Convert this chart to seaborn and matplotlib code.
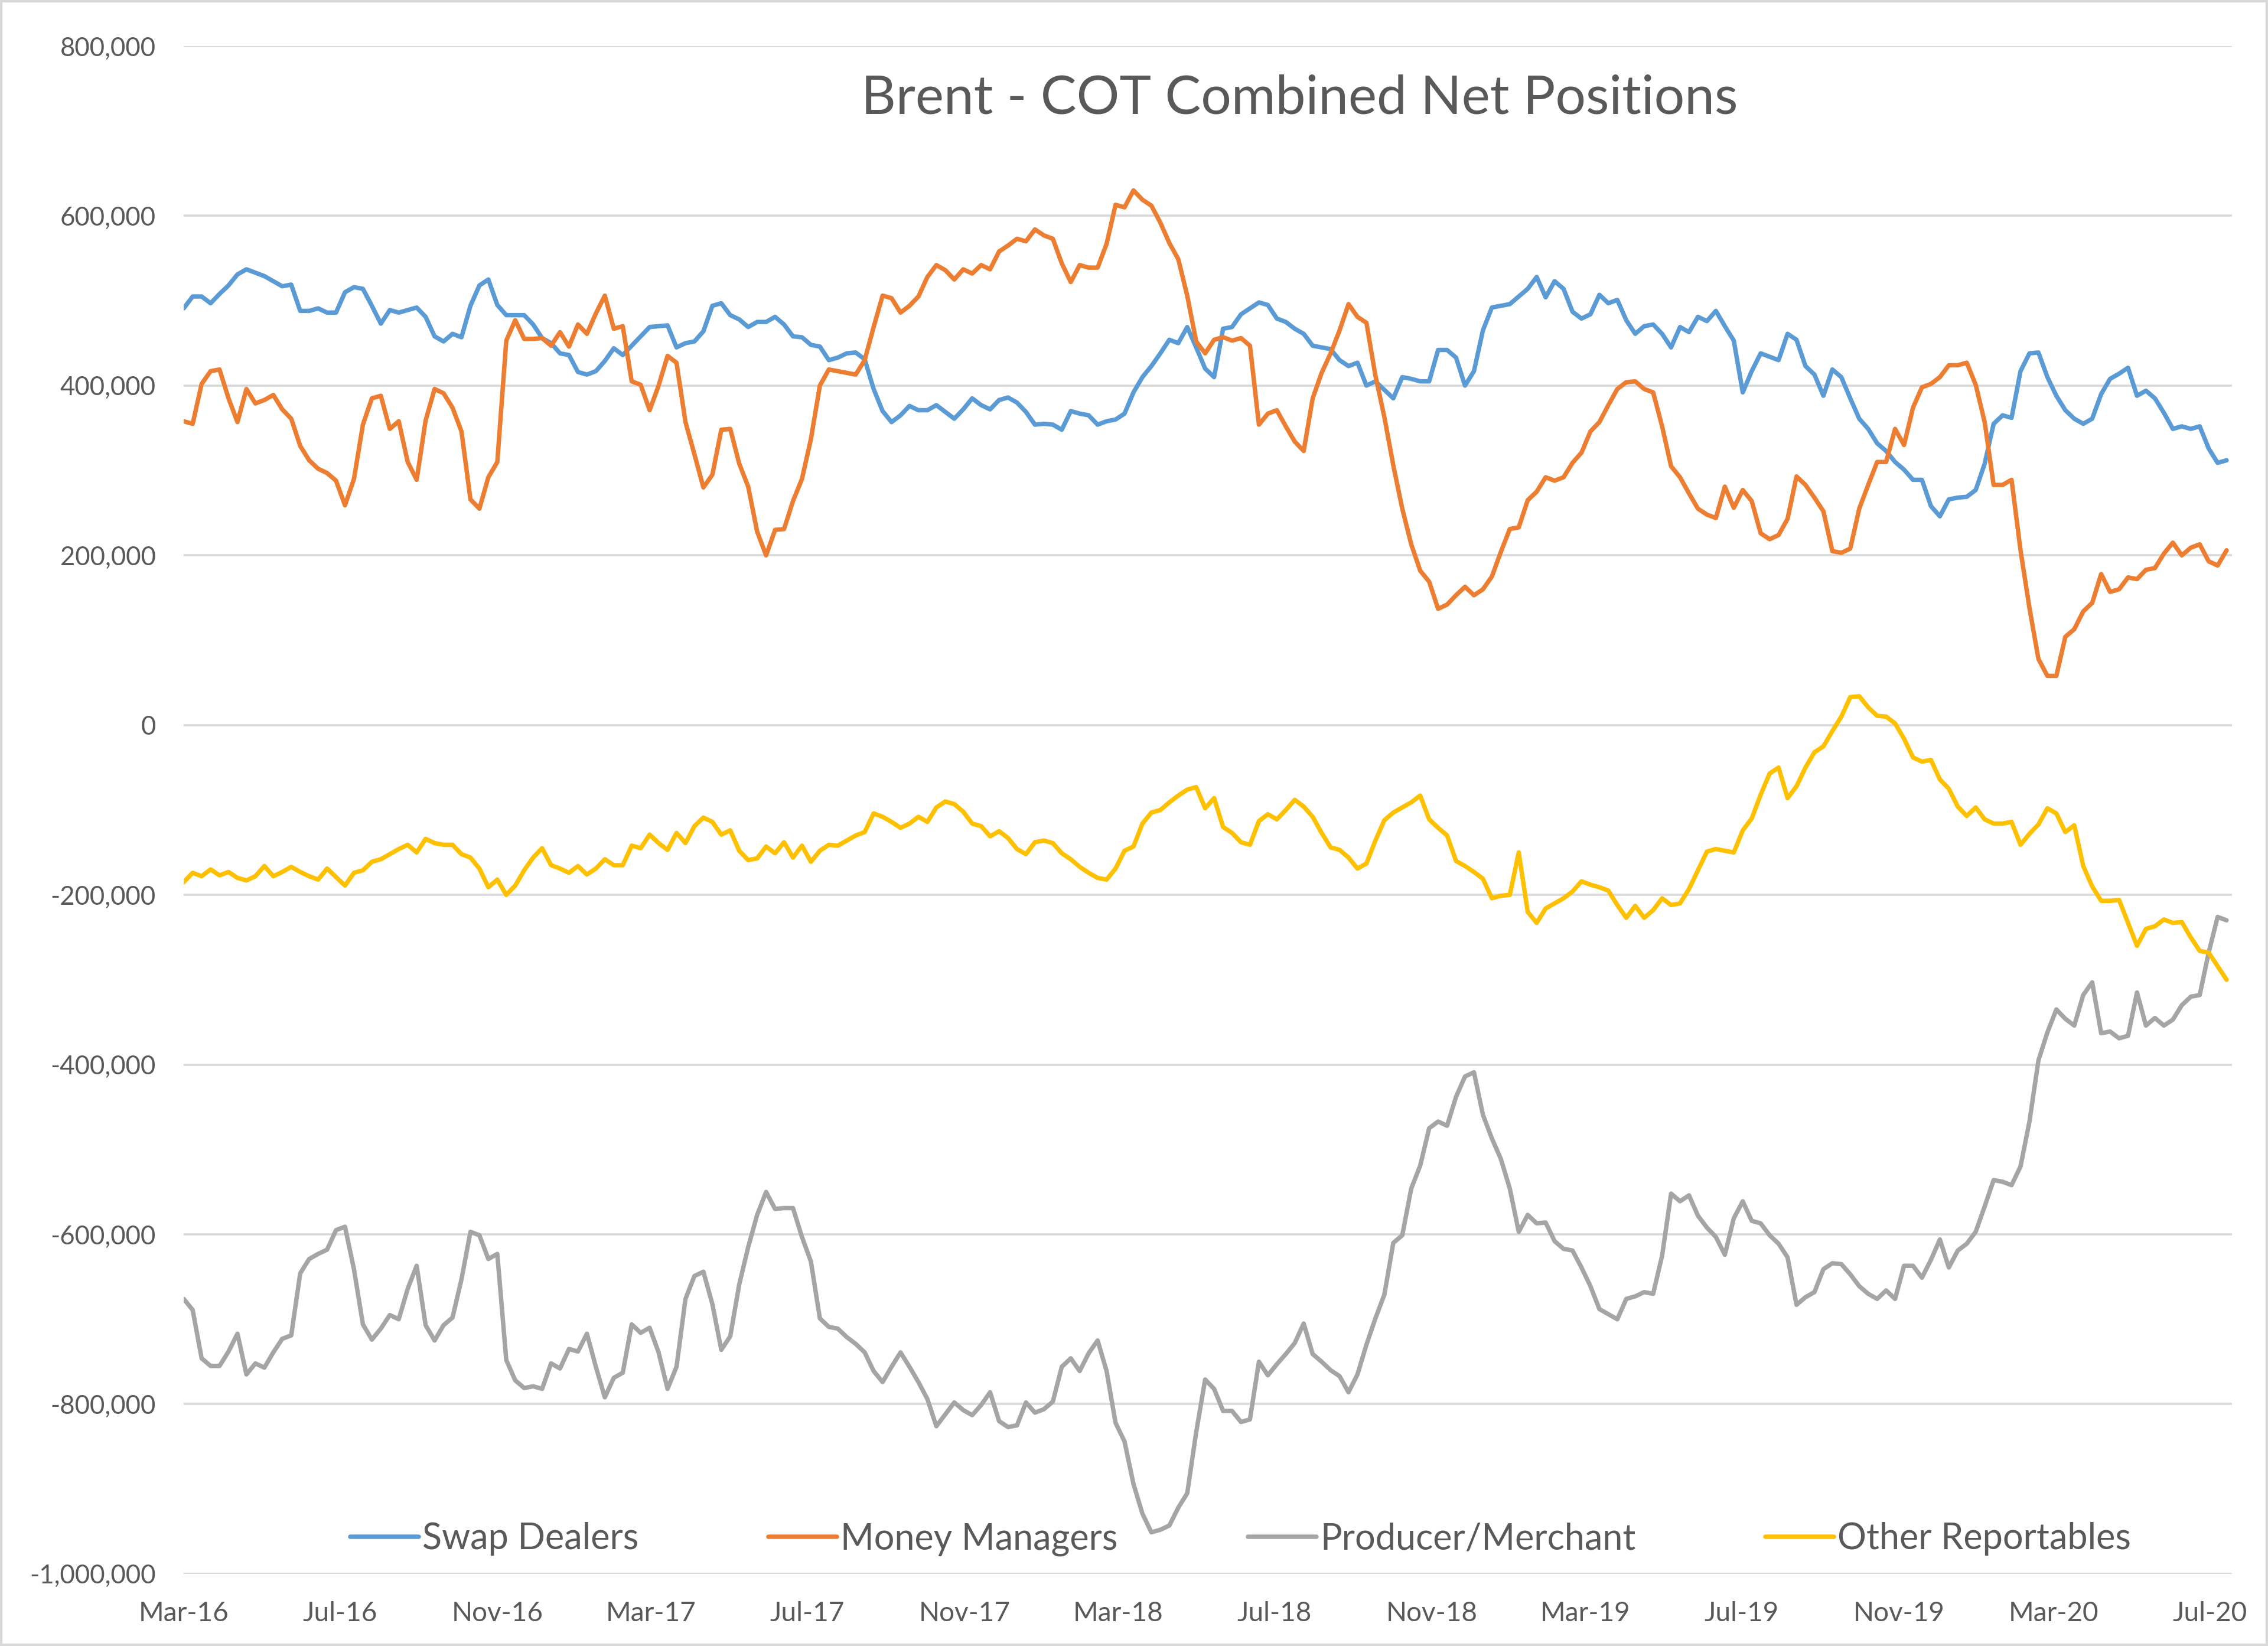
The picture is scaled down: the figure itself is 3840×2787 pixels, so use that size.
import numpy as np
import pandas as pd
import matplotlib
matplotlib.use("Agg")
import matplotlib.pyplot as plt
from matplotlib.lines import Line2D
from matplotlib.patches import Rectangle
from matplotlib.ticker import FuncFormatter
import seaborn as sns

# ---------------- data (thousands of contracts, weekly from 1 Mar 2016) ----------------
start_date = "2016-03-01"
unit = 1000

swap_dealers = [
    491, 505, 505, 497, 508, 518, 531, 537, 533, 529, 523, 517, 519, 488, 488, 491, 486, 486, 510, 516,
    514, 494, 473, 489, 486, 489, 492, 481, 458, 452, 461, 457, 494, 518, 525, 495, 483, 483, 483, 472,
    456, 450, 438, 436, 416, 413, 417, 429, 444, 436, 447, 458, 469, 470, 471, 445,
    450, 452, 464, 494, 497, 483, 478, 469, 475, 475, 481, 472, 458, 457, 448, 446, 430, 433, 438, 439,
    431, 396, 370, 357, 365, 376, 371, 371, 377, 369, 361, 372, 385, 377, 372, 383, 386, 380, 369, 354,
    355, 354, 348, 370, 367, 365, 354, 358, 360, 367, 392, 410, 423, 438, 454, 450,
    469, 445, 420, 410, 467, 469, 484, 491, 498, 495, 479, 475, 467, 461, 447, 445, 443, 430, 423, 427,
    400, 405, 395, 385, 410, 408, 405, 405, 442, 442, 433, 400, 417, 465, 492, 494, 496, 505, 514, 528,
    504, 523, 514, 487, 479, 484, 507, 497, 501, 477, 461, 470, 472, 461, 445, 469,
    463, 481, 476, 488, 470, 453, 392, 417, 438, 434, 430, 461, 454, 423, 413, 388, 419, 410, 385, 361,
    349, 332, 323, 310, 301, 289, 289, 258, 246, 266, 268, 269, 277, 308, 355, 365, 362, 417, 438, 439,
    410, 388, 371, 361, 355, 361, 390, 408, 414, 421, 388, 394, 385, 368, 349, 352, 349, 352, 326, 309,
    312,
]

money_managers = [
    358, 355, 402, 417, 419, 385, 357, 396, 379, 383, 389, 372, 361, 329, 312, 302, 297, 288, 259, 290,
    354, 385, 388, 349, 358, 310, 289, 359, 396, 391, 374, 346, 266, 255, 292, 310, 453, 477, 455, 455,
    456, 447, 463, 446, 472, 461, 485, 506, 467, 470, 405, 401, 371, 400, 435, 427,
    357, 319, 280, 295, 348, 349, 308, 281, 228, 200, 230, 231, 264, 290, 337, 400, 419, 417, 415, 413,
    430, 469, 506, 503, 486, 494, 505, 528, 542, 536, 525, 537, 532, 542, 537, 558, 565, 573, 570, 584,
    577, 573, 544, 522, 542, 539, 539, 567, 613, 610, 630, 619, 612, 592, 568, 549,
    506, 452, 438, 454, 457, 453, 456, 447, 354, 367, 371, 352, 334, 323, 385, 415, 438, 465, 496, 481,
    474, 412, 363, 306, 255, 213, 182, 169, 137, 142, 153, 163, 153, 160, 175, 204, 231, 233, 265, 275,
    292, 288, 292, 309, 321, 346, 357, 377, 396, 404, 405, 396, 392, 352, 305, 292,
    273, 255, 248, 244, 281, 256, 277, 264, 226, 219, 224, 243, 293, 283, 268, 252, 205, 203, 208, 255,
    283, 310, 310, 349, 330, 374, 398, 402, 410, 424, 424, 427, 401, 357, 283, 283, 289, 206, 138, 78,
    58, 58, 104, 113, 134, 144, 178, 157, 160, 174, 172, 183, 185, 202, 215, 200, 209, 213, 193, 188,
    206,
]

producer_merchant = [
    -676, -689, -746, -755, -755, -738, -717, -765, -752, -757, -739, -723, -719, -646, -629, -623, -618, -595, -591, -641,
    -706, -724, -711, -695, -700, -664, -637, -707, -725, -707, -698, -653, -597, -601, -629, -623, -748, -772, -781, -779,
    -782, -752, -758, -735, -738, -717, -756, -792, -769, -763, -706, -716, -710, -739, -782, -756, -676, -649, -644, -682,
    -736, -720, -659, -615, -577, -550, -570, -569, -569, -603, -632, -699, -709, -711, -721, -729, -739,
    -761, -774, -756, -739, -756, -774, -794, -826, -812, -798, -807, -813, -801, -786, -820, -827, -825, -798, -810, -806,
    -797, -756, -746, -761, -740, -725, -761, -822, -844, -894, -929, -951, -948, -943, -922, -905, -833, -771, -782, -808,
    -808, -821, -818, -750, -766, -753, -741, -728, -705, -741, -750, -760, -767, -786, -765, -730, -699, -671, -610, -601,
    -546, -519, -475, -467, -472, -438, -414, -409, -459, -487, -511, -546, -597, -577, -587,
    -586, -608, -617, -619, -639, -661, -688, -694, -700, -676, -673, -668, -670, -625, -552, -561, -554, -578, -592, -603,
    -624, -581, -561, -584, -587, -601, -611, -627, -683, -674, -668, -641, -634, -635, -647, -661, -670, -676, -666, -676,
    -637, -637, -651, -630, -606, -639, -619, -611, -597, -567, -536, -538, -542, -520, -467, -395, -362, -335, -346, -354,
    -318, -303, -363, -361, -369, -366, -315, -354, -345, -354, -347, -330, -320, -318, -268, -226, -230,
]

other_reportables = [
    -185, -174, -178, -170, -177, -173, -180, -183, -178, -166, -178, -173, -167, -173, -178, -182, -169, -179, -189, -174,
    -171, -161, -158, -152, -146, -141, -150, -134, -139, -141, -141, -152, -156, -169, -191, -182, -200, -189, -171, -156,
    -145, -165, -169, -174, -166, -176, -169, -158, -165, -165, -142, -145, -129, -139, -147, -127, -139, -119, -109, -114,
    -129, -124, -148, -159, -157, -143, -151, -138, -156, -142, -161, -148, -141, -142, -136, -130, -126,
    -104, -108, -114, -121, -116, -108, -114, -97, -90, -93, -102, -116, -119, -131, -125, -133, -146, -152, -138, -136,
    -139, -151, -158, -167, -174, -180, -182, -169, -148, -143, -116, -103, -100, -91, -83, -76, -73, -98, -86, -120,
    -127, -138, -141, -113, -105, -111, -100, -88, -96, -108, -127, -144, -147, -156, -169, -163, -136, -112, -103, -97,
    -91, -83, -111, -121, -130, -160, -166, -173, -181, -204, -201, -200, -150, -220, -233,
    -216, -210, -204, -196, -184, -188, -191, -195, -212, -227, -213, -227, -218, -204, -212, -210, -193, -171, -149, -146,
    -148, -150, -124, -110, -82, -57, -50, -86, -72, -50, -32, -25, -7, 10, 33, 34, 21, 11, 10, 2,
    -16, -38, -43, -41, -64, -75, -96, -107, -97, -111, -116, -116, -114, -141, -128, -117, -98, -104, -126, -118,
    -166, -190, -207, -207, -206, -233, -260, -240, -237, -229, -233, -232, -250, -266, -268, -284, -300,
]

series_names = ["Swap Dealers", "Money Managers", "Producer/Merchant", "Other Reportables"]
series_colors = ["#5B9BD5", "#ED7D31", "#A5A5A5", "#FFC000"]
tick_labels = ["Mar-16", "Jul-16", "Nov-16", "Mar-17", "Jul-17", "Nov-17", "Mar-18",
               "Jul-18", "Nov-18", "Mar-19", "Jul-19", "Nov-19", "Mar-20", "Jul-20"]
y_ticks = [800000, 600000, 400000, 200000, 0, -200000, -400000, -600000, -800000, -1000000]
title_text = "Brent - COT Combined Net Positions"

# ---------------- frame ----------------
dates = pd.date_range(start_date, periods=len(swap_dealers), freq="7D")
wide = pd.DataFrame({
    "date": dates,
    series_names[0]: np.array(swap_dealers) * unit,
    series_names[1]: np.array(money_managers) * unit,
    series_names[2]: np.array(producer_merchant) * unit,
    series_names[3]: np.array(other_reportables) * unit,
})
long = wide.melt(id_vars="date", var_name="series", value_name="value")

sns.set_style("white")
plt.rcParams["font.family"] = ["Lato", "DejaVu Sans"]

text_color = "#595959"
grid_color = "#D9D9D9"

fig = plt.figure(figsize=(38.4, 27.87), dpi=100)
ax = fig.add_axes([0.081, 0.0438, 0.903, 0.9282])

sns.lineplot(data=long, x="date", y="value", hue="series", hue_order=series_names,
             palette=series_colors, linewidth=5.4, estimator=None, sort=False,
             legend=False, ax=ax)

ax.set_ylim(-1000000, 800000)
ax.set_yticks(y_ticks)
ax.yaxis.set_major_formatter(FuncFormatter(lambda v, p: f"{v:,.0f}"))
tick_dates = pd.date_range("2016-03-01", periods=len(tick_labels), freq="4MS")
ax.set_xticks(tick_dates)
ax.set_xticklabels(tick_labels)
ax.set_xlim(pd.Timestamp("2016-03-01"), pd.Timestamp("2020-07-18"))

ax.set_xlabel("")
ax.set_ylabel("")
ax.grid(axis="y", color=grid_color, linewidth=2.6)
ax.grid(axis="x", visible=False)
ax.set_axisbelow(True)
for s in ax.spines.values():
    s.set_visible(False)
ax.tick_params(axis="y", length=0, pad=34, labelsize=31.5, labelcolor=text_color)
ax.tick_params(axis="x", length=0, pad=33, labelsize=33, labelcolor=text_color)

fig.text(0.573, 0.940, title_text, ha="center", va="center", fontsize=65.5, color=text_color)

handles = [Line2D([0], [0], color=c, linewidth=5.4) for c in series_colors]
fig.legend(handles, series_names, loc="center", bbox_to_anchor=(0.547, 0.065), ncol=4,
           frameon=False, fontsize=44, handlelength=1.9, handletextpad=0.1,
           columnspacing=3.6, labelcolor=text_color)

fig.patches.append(Rectangle((0, 0), 1, 1, transform=fig.transFigure, fill=False,
                             edgecolor=grid_color, linewidth=6))

fig.savefig("out.png", dpi=100)
